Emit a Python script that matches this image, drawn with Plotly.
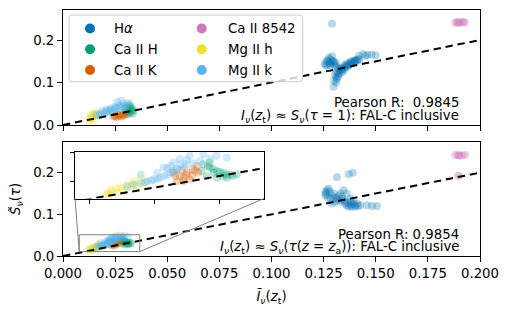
import plotly.graph_objects as go

# ---------------- data ----------------
names = ["H\u03b1", "Ca II H", "Ca II K", "Ca II 8542", "Mg II h", "Mg II k"]
legend_labels = ["H<i>\u03b1</i>", "Ca II H", "Ca II K", "Ca II 8542", "Mg II h", "Mg II k"]

# top panel  (I_nu(z_t) vs S_nu(tau=1))
top_ha_x = [0.129, 0.1255, 0.127, 0.128, 0.129, 0.1265, 0.128, 0.129, 0.130, 0.126, 0.128, 0.130, 0.131,
            0.1298, 0.131, 0.1314, 0.132, 0.132, 0.133, 0.131, 0.130,
            0.134, 0.135, 0.136, 0.137, 0.138, 0.139, 0.140, 0.141, 0.142, 0.136, 0.138, 0.140, 0.135, 0.133,
            0.142, 0.144, 0.146, 0.148, 0.150, 0.145,
            0.1265, 0.1275, 0.1285, 0.1295, 0.1305, 0.1318, 0.1325, 0.1335, 0.1345, 0.1355, 0.1365, 0.1375,
            0.1385, 0.1395, 0.1405, 0.1415, 0.1305, 0.1312, 0.1325, 0.134]
top_ha_y = [0.238, 0.145, 0.150, 0.155, 0.162, 0.142, 0.147, 0.152, 0.148, 0.140, 0.140, 0.143, 0.146,
            0.090, 0.100, 0.108, 0.115, 0.122, 0.128, 0.112, 0.104,
            0.128, 0.132, 0.136, 0.140, 0.143, 0.146, 0.149, 0.151, 0.154, 0.145, 0.150, 0.153, 0.140, 0.135,
            0.163, 0.167, 0.165, 0.166, 0.164, 0.162,
            0.152, 0.158, 0.144, 0.150, 0.140, 0.134, 0.130, 0.132, 0.134, 0.138, 0.142, 0.146,
            0.148, 0.150, 0.152, 0.155, 0.118, 0.124, 0.120, 0.124]
top_cah_x = [0.030, 0.031, 0.032, 0.031, 0.033, 0.032, 0.033, 0.031, 0.030, 0.032, 0.034, 0.0335,
             0.0315, 0.0325, 0.031, 0.0325]
top_cah_y = [0.030, 0.035, 0.040, 0.045, 0.038, 0.028, 0.032, 0.025, 0.040, 0.048, 0.035, 0.027,
             0.033, 0.036, 0.029, 0.043]
top_cak_x = [0.024, 0.025, 0.026, 0.027, 0.028, 0.029, 0.030, 0.026, 0.028, 0.025, 0.027, 0.029]
top_cak_y = [0.020, 0.022, 0.024, 0.022, 0.025, 0.024, 0.026, 0.018, 0.020, 0.020, 0.024, 0.022]
top_ca8542_x = [0.188, 0.189, 0.190, 0.191, 0.192, 0.193, 0.190, 0.189, 0.192]
top_ca8542_y = [0.241, 0.243, 0.242, 0.241, 0.242, 0.241, 0.240, 0.240, 0.243]
top_mgh_x = [0.0125, 0.013, 0.0135, 0.014, 0.015, 0.0155, 0.016, 0.0145, 0.0132, 0.0138, 0.0148, 0.0128]
top_mgh_y = [0.010, 0.015, 0.020, 0.025, 0.030, 0.022, 0.028, 0.012, 0.018, 0.016, 0.024, 0.013]
top_mgk_x = [0.016, 0.018, 0.020, 0.022, 0.024, 0.026, 0.028, 0.030, 0.019, 0.021, 0.023, 0.025,
             0.027, 0.029, 0.031, 0.026, 0.028, 0.024, 0.030, 0.017,
             0.021, 0.023, 0.025, 0.027, 0.029, 0.022, 0.020, 0.018]
top_mgk_y = [0.025, 0.028, 0.030, 0.033, 0.036, 0.040, 0.042, 0.045, 0.033, 0.037, 0.040, 0.043,
             0.047, 0.050, 0.052, 0.055, 0.057, 0.030, 0.040, 0.022,
             0.033, 0.036, 0.039, 0.041, 0.044, 0.030, 0.027, 0.025]

# bottom panel  (I_nu(z_t) vs S_nu(tau(z=z_a)))
bot_ha_x = [0.1314, 0.137, 0.139,
            0.1266, 0.1258, 0.1282, 0.1274, 0.1298, 0.1314, 0.1330, 0.1306, 0.1346, 0.1362, 0.1378,
            0.1394, 0.1410, 0.1378, 0.1426, 0.1458, 0.1482, 0.1506, 0.1290, 0.1338, 0.1354, 0.1402,
            0.1370, 0.1258,
            0.1262, 0.1278, 0.1290, 0.1302, 0.1318, 0.1322, 0.1340, 0.1350, 0.1366, 0.1380, 0.1390,
            0.1400, 0.1415, 0.1360, 0.1385, 0.1270, 0.1330]
bot_ha_y = [0.189, 0.196, 0.200,
            0.158, 0.146, 0.138, 0.162, 0.150, 0.138, 0.130, 0.130, 0.158, 0.150, 0.138,
            0.130, 0.126, 0.122, 0.122, 0.122, 0.120, 0.120, 0.126, 0.142, 0.126, 0.118,
            0.118, 0.154,
            0.150, 0.155, 0.145, 0.140, 0.134, 0.144, 0.136, 0.132, 0.128, 0.130, 0.125,
            0.122, 0.120, 0.122, 0.118, 0.140, 0.150]
bot_cah_x = [0.0275, 0.0285, 0.0296, 0.0306, 0.0316, 0.0326, 0.0280, 0.0296, 0.0272, 0.0291, 0.0311, 0.0285,
             0.0300, 0.0310, 0.0320, 0.0290, 0.0305, 0.0282]
bot_cah_y = [0.0402, 0.0373, 0.0343, 0.0328, 0.0313, 0.0313, 0.0298, 0.0284, 0.0343, 0.0328, 0.0284, 0.0417,
             0.0335, 0.0310, 0.0300, 0.0360, 0.0300, 0.0385]
bot_cak_x = [0.0229, 0.0239, 0.0249, 0.0259, 0.0267, 0.0254, 0.0244, 0.0265, 0.0234, 0.0232, 0.0242,
             0.0250, 0.0258, 0.0262, 0.0245]
bot_cak_y = [0.0328, 0.0298, 0.0313, 0.0358, 0.0328, 0.0269, 0.0254, 0.0387, 0.0254, 0.0300, 0.0350,
             0.0330, 0.0300, 0.0345, 0.0285]
bot_ca8542_x = [0.188, 0.189, 0.190, 0.191, 0.192, 0.193, 0.190, 0.190, 0.1895]
bot_ca8542_y = [0.242, 0.243, 0.242, 0.241, 0.242, 0.243, 0.241, 0.192, 0.1925]
bot_mgh_x = [0.0128, 0.0133, 0.0140, 0.0148, 0.0158, 0.0168, 0.0179, 0.0131, 0.0143, 0.0158, 0.0174, 0.0184,
             0.0135, 0.0150, 0.0163, 0.0170, 0.0125]
bot_mgh_y = [0.0156, 0.0180, 0.0187, 0.0204, 0.0225, 0.0254, 0.0284, 0.0136, 0.0156, 0.0180, 0.0210, 0.0240,
             0.0165, 0.0190, 0.0215, 0.0230, 0.0145]
bot_mgk_x = [0.0158, 0.0168, 0.0179, 0.0189, 0.0199, 0.0209, 0.0220, 0.0230, 0.0214, 0.0225, 0.0240, 0.0204,
             0.0179, 0.0239, 0.0254, 0.0275, 0.0295, 0.0311, 0.0229, 0.0249, 0.0270, 0.0285, 0.0234,
             0.0185, 0.0195, 0.0205, 0.0215, 0.0225, 0.0235, 0.0245, 0.0260, 0.0220, 0.0250]
bot_mgk_y = [0.0210, 0.0225, 0.0240, 0.0254, 0.0269, 0.0284, 0.0313, 0.0343, 0.0373, 0.0387, 0.0402, 0.0328,
             0.0313, 0.0446, 0.0476, 0.0491, 0.0476, 0.0460, 0.0417, 0.0402, 0.0431, 0.0446, 0.0358,
             0.0245, 0.0260, 0.0275, 0.0300, 0.0330, 0.0360, 0.0380, 0.0410, 0.0370, 0.0440]

line_x = [0.0, 0.2]
line_y = [0.0, 0.2]

x_ticks = [0.0, 0.025, 0.05, 0.075, 0.1, 0.125, 0.15, 0.175, 0.2]
y_ticks = [0.0, 0.1, 0.2]
inset_xlim = [0.0078, 0.0368]
inset_ylim = [0.0105, 0.051]
inset_xticks = [0.01, 0.02, 0.03]
inset_yticks = [0.025, 0.05]

pearson_top = 0.9845
pearson_bot = 0.9854

# ---------------- style ----------------
colors = ["#0173B2", "#029E73", "#D55E00", "#CC78BC", "#ECE133", "#56B4E9"]
FONT = "DejaVu Sans"
FS = 13.3
OFF = 8                      # page body margin of the html page
W, H = 512, 312
PL, PT = 63, 10              # plot-area top-left in page pixels
PW, PH = 417, 246
L, T = PL - OFF, PT - OFF
R, B = W - L - PW, H - T - PH


def px(xp, yp):
    """page pixel -> paper coords"""
    return (xp - PL) / PW, (PT + PH - yp) / PH


top_dom = [px(0, 125)[1], 1.0]
bot_dom = [0.0, px(0, 141.7)[1]]
inset_xdom = [px(75, 0)[0], px(264, 0)[0]]
inset_ydom = [px(0, 198.5)[1], px(0, 151.7)[1]]

fig = go.Figure()

top_sets = [(top_ha_x, top_ha_y), (top_cah_x, top_cah_y), (top_cak_x, top_cak_y),
            (top_ca8542_x, top_ca8542_y), (top_mgh_x, top_mgh_y), (top_mgk_x, top_mgk_y)]
bot_sets = [(bot_ha_x, bot_ha_y), (bot_cah_x, bot_cah_y), (bot_cak_x, bot_cak_y),
            (bot_ca8542_x, bot_ca8542_y), (bot_mgh_x, bot_mgh_y), (bot_mgk_x, bot_mgk_y)]

marker_style = dict(size=8, opacity=0.28, line=dict(width=0))
dash_style = dict(color="black", width=2, dash="7.4px,4.8px")

for axes, sets in [(("x", "y"), top_sets), (("x2", "y2"), bot_sets), (("x3", "y3"), bot_sets)]:
    for (xs, ys), c, n in zip(sets, colors, names):
        fig.add_trace(go.Scatter(x=xs, y=ys, mode="markers", name=n, showlegend=False,
                                 marker=dict(color=c, **marker_style),
                                 xaxis=axes[0], yaxis=axes[1]))
    fig.add_trace(go.Scatter(x=line_x, y=line_y, mode="lines", showlegend=False,
                             line=dash_style, xaxis=axes[0], yaxis=axes[1]))

axis_common = dict(showgrid=False, zeroline=False, showline=True, mirror=True, linecolor="black",
                   linewidth=1, ticks="outside", ticklen=5, tickwidth=1, tickcolor="black",
                   tickfont=dict(family=FONT, size=FS, color="black"))

fig.update_layout(
    width=W, height=H, margin=dict(l=L, r=R, t=T, b=B, autoexpand=False),
    plot_bgcolor="white", paper_bgcolor="white", showlegend=False,
    font=dict(family=FONT, size=FS, color="black"),
    xaxis=dict(domain=[0, 1], anchor="y", range=[0, 0.2], tickvals=x_ticks, showticklabels=False, **axis_common),
    yaxis=dict(domain=top_dom, anchor="x", range=[0, 0.2706], tickvals=y_ticks, tickformat=".1f", **axis_common),
    xaxis2=dict(domain=[0, 1], anchor="y2", range=[0, 0.2], tickvals=x_ticks, tickformat=".3f",
                title=dict(text="<i>I\u0303</i><sub><i>\u03bd</i></sub>(<i>z</i><sub>t</sub>)",
                           font=dict(family=FONT, size=FS), standoff=11),
                **axis_common),
    yaxis2=dict(domain=bot_dom, anchor="x2", range=[0, 0.2743], tickvals=y_ticks, tickformat=".1f",
                title=dict(text="<i>S\u0303</i><sub><i>\u03bd</i></sub>(<i>\u03c4</i>)",
                           font=dict(family=FONT, size=FS), standoff=13),
                **axis_common),
    xaxis3=dict(domain=inset_xdom, anchor="y3", range=inset_xlim, tickvals=inset_xticks,
                showticklabels=False, showgrid=False, zeroline=False, showline=True, mirror=True,
                linecolor="black", linewidth=1, ticks="outside", ticklen=4, tickcolor="black"),
    yaxis3=dict(domain=inset_ydom, anchor="x3", range=inset_ylim, tickvals=inset_yticks,
                showticklabels=False, showgrid=False, zeroline=False, showline=True, mirror=True,
                linecolor="black", linewidth=1, ticks="outside", ticklen=4, tickcolor="black"),
)

shapes = []
annotations = []

# mark_inset rectangle and connectors (in bottom-axes data coords)
grey = "#808080"
shapes.append(dict(type="rect", xref="x2", yref="y2", x0=inset_xlim[0], x1=inset_xlim[1],
                   y0=inset_ylim[0], y1=inset_ylim[1], line=dict(color=grey, width=1), layer="above"))
bx_range, by_range = [0, 0.2], [0, 0.2743]


def paper_to_bot(xp, yp):
    xd = bx_range[0] + xp * (bx_range[1] - bx_range[0])
    yd = by_range[0] + (yp - bot_dom[0]) / (bot_dom[1] - bot_dom[0]) * (by_range[1] - by_range[0])
    return xd, yd


for cx_rect, cx_ins in [(inset_xlim[0], inset_xdom[0]), (inset_xlim[1], inset_xdom[1])]:
    xd, yd = paper_to_bot(cx_ins, inset_ydom[0])
    shapes.append(dict(type="line", xref="x2", yref="y2", x0=cx_rect, y0=inset_ylim[0], x1=xd, y1=yd,
                       line=dict(color=grey, width=1), layer="above"))

# legend box (rounded)
lx0, ly0 = px(69, 15)
lx1, ly1 = px(302.7, 81.7)
rx, ry = 3 / PW, 3 / PH
path = (f"M {lx0+rx},{ly0} L {lx1-rx},{ly0} Q {lx1},{ly0} {lx1},{ly0-ry} "
        f"L {lx1},{ly1+ry} Q {lx1},{ly1} {lx1-rx},{ly1} L {lx0+rx},{ly1} Q {lx0},{ly1} {lx0},{ly1+ry} "
        f"L {lx0},{ly0-ry} Q {lx0},{ly0} {lx0+rx},{ly0} Z")
shapes.append(dict(type="path", xref="paper", yref="paper", path=path,
                   fillcolor="rgba(255,255,255,0.8)", line=dict(color="#cccccc", width=1), layer="above"))

col_marker_x = [90, 201.7]
col_text_x = [112, 225.5]
row_y = [28.5, 49.3, 70.0]
for i, (lab, c) in enumerate(zip(legend_labels, colors)):
    col, row = divmod(i, 3)
    mx, my = col_marker_x[col], row_y[row]
    x0, y0 = px(mx - 5, my + 5)
    x1, y1 = px(mx + 5, my - 5)
    shapes.append(dict(type="circle", xref="paper", yref="paper", x0=x0, y0=y0, x1=x1, y1=y1,
                       fillcolor=c, line=dict(width=0), layer="above"))
    tx, ty = px(col_text_x[col], my)
    annotations.append(dict(text=lab, xref="paper", yref="paper", x=tx, y=ty, xanchor="left",
                            yanchor="middle", showarrow=False, font=dict(family=FONT, size=FS)))

# text annotations
eq_top = "<i>I</i><sub><i>\u03bd</i></sub>(<i>z</i><sub>t</sub>) \u2248 <i>S</i><sub><i>\u03bd</i></sub>(<i>\u03c4</i> = 1): FAL-C inclusive"
eq_bot = ("<i>I</i><sub><i>\u03bd</i></sub>(<i>z</i><sub>t</sub>) \u2248 <i>S</i><sub><i>\u03bd</i></sub>"
          "(<i>\u03c4</i>(<i>z</i> = <i>z</i><sub>a</sub>)): FAL-C inclusive")
texts = [(f"Pearson R:\u00a0 {pearson_top:.4f}", 102.5), (eq_top, 116.5),
         (f"Pearson R: {pearson_bot:.4f}", 234.5), (eq_bot, 247.5)]
for txt, yp in texts:
    xx, yy = px(460.5, yp)
    annotations.append(dict(text=txt, xref="paper", yref="paper", x=xx, y=yy, xanchor="right",
                            yanchor="middle", showarrow=False, font=dict(family=FONT, size=FS)))

fig.update_layout(shapes=shapes, annotations=annotations)
fig.write_html("out.html")
